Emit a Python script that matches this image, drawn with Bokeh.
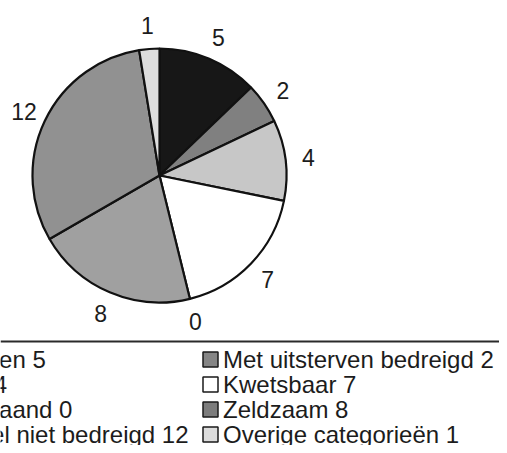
import math
from bokeh.plotting import figure
from bokeh.models import Range1d, Span, ColumnDataSource
from bokeh.core.properties import value
from bokeh.embed import file_html
from bokeh.resources import INLINE

# ---- data ----
categories = ["Uitgestorven", "Met uitsterven bedreigd", "Bedreigd", "Kwetsbaar",
              "Achteruitgaand", "Zeldzaam", "Momenteel niet bedreigd", "Overige categorieën"]
counts = [5, 2, 4, 7, 0, 8, 12, 1]
slice_colors = ["#171717", "#808080", "#c7c7c7", "#ffffff",
                "#555555", "#a0a0a0", "#919191", "#dedede"]
legend_colors = ["#171717", "#858585", "#c7c7c7", "#ffffff",
                 "#555555", "#7c7c7c", "#919191", "#dcdcdc"]

# ---- layout (pixel-like data space: x = px, y = -px) ----
W, H = 499, 445
cx, cy, R = 159, -175, 127
label_r = 150
font = value("Liberation Sans")
txt_color = "#1c1c1c"

p = figure(width=W, height=H, x_range=Range1d(0, W), y_range=Range1d(-H, 0),
           output_backend="svg", toolbar_location=None, min_border=0,
           x_axis_type=None, y_axis_type=None)
p.min_border_left = p.min_border_right = p.min_border_top = p.min_border_bottom = 0
p.xgrid.visible = False
p.ygrid.visible = False
p.outline_line_color = None
p.background_fill_color = "white"
p.border_fill_color = "white"

total = sum(counts)
starts, ends, cols, lx, ly = [], [], [], [], []
cum = 0
for c, col in zip(counts, slice_colors):
    a0 = math.pi / 2 - 2 * math.pi * cum / total
    a1 = math.pi / 2 - 2 * math.pi * (cum + c) / total
    if c > 0:
        starts.append(a0)
        ends.append(a1)
        cols.append(col)
    mid = (a0 + a1) / 2
    lx.append(cx + label_r * math.cos(mid))
    ly.append(cy + label_r * math.sin(mid))
    cum += c

src = ColumnDataSource(dict(start=starts, end=ends, color=cols))
p.wedge(x=cx, y=cy, radius=R, start_angle="start", end_angle="end",
        direction="clock", fill_color="color", line_color="#111111",
        line_width=2.2, source=src)

p.text(x=lx, y=ly, text=[str(c) for c in counts], text_font=font,
       text_font_size="23px", text_color=txt_color,
       text_align="center", text_baseline="middle")

# separator line
p.add_layout(Span(location=-341, dimension="width", line_color="#2a2a2a", line_width=2))

# legend (two columns, row-wise order)
col_text_x = [-109.5, 222.5]
row_mid0, row_step = 359, 25
sq_x, sq_y, tx, ty, tt, sc = [], [], [], [], [], []
for i, (cat, c) in enumerate(zip(categories, counts)):
    col, row = i % 2, i // 2
    mid = row_mid0 + row * row_step
    tx.append(col_text_x[col])
    ty.append(-mid)
    tt.append(f"{cat} {c}")
    sq_x.append(col_text_x[col] - 12.5)
    sq_y.append(-mid)
    sc.append(legend_colors[i])

p.rect(x=sq_x, y=sq_y, width=15, height=15, fill_color=sc,
       line_color="#1a1a1a", line_width=1.5)
p.text(x=tx, y=ty, text=tt, text_font=font, text_font_size="24px",
       text_color=txt_color, text_align="left", text_baseline="middle")

open("out.html", "w").write(file_html(p, INLINE))
